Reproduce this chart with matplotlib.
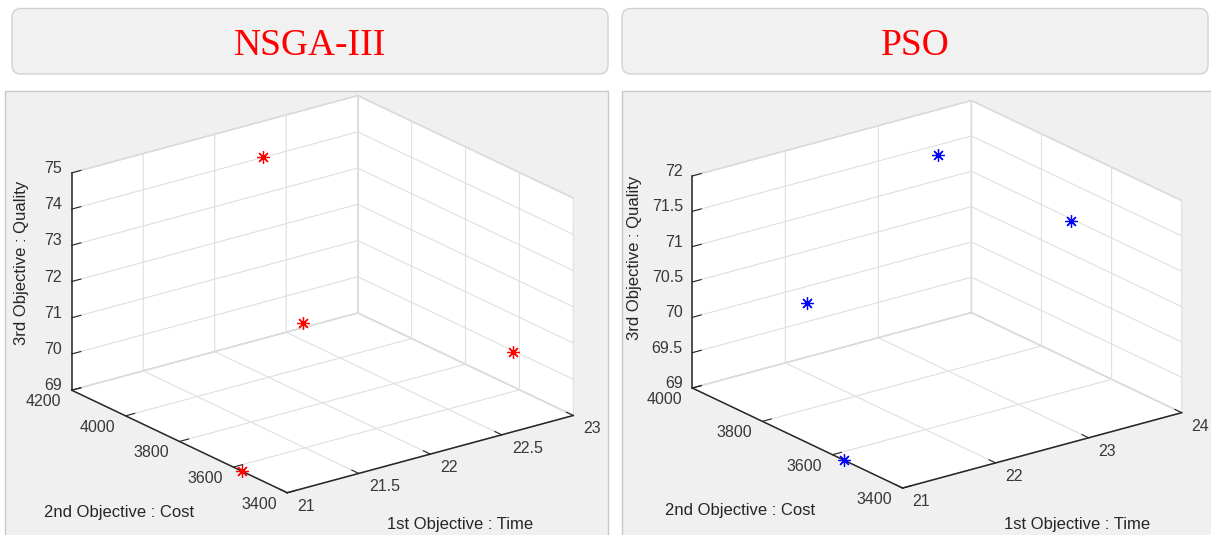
import matplotlib
matplotlib.use("Agg")
import matplotlib.pyplot as plt
from matplotlib.patches import FancyBboxPatch, Rectangle
from mpl_toolkits.mplot3d import proj3d

W, H = 1211, 535

# soluciones NSGA-III (tiempo, costo, calidad)
nsga_time = [21.0, 22.05, 21.8, 22.9]
nsga_cost = [3567, 4049, 3765, 3572]
nsga_quality = [69.0, 74.84, 71.54, 70.24]

# soluciones PSO
pso_time = [21.0, 21.3, 23.2, 23.6]
pso_cost = [3566, 3753, 3882, 3611]
pso_quality = [69.0, 70.68, 71.79, 71.36]

nsga_xticks = [21, 21.5, 22, 22.5, 23]
nsga_yticks = [3400, 3600, 3800, 4000, 4200]
nsga_zticks = [69, 70, 71, 72, 73, 74, 75]
pso_xticks = [21, 22, 23, 24]
pso_yticks = [3400, 3600, 3800, 4000]
pso_zticks = [69, 69.5, 70, 70.5, 71, 71.5, 72]

plt.rcParams['font.family'] = ['Liberation Sans', 'DejaVu Sans']

fig = plt.figure(figsize=(W / 100, H / 100), dpi=100, facecolor='white')

bg = fig.add_axes([0, 0, 1, 1], zorder=-10)
bg.set_xlim(0, W)
bg.set_ylim(H, 0)
bg.axis('off')

# fondos grises de cada panel
bg.add_patch(Rectangle((5, 91), 603, 450, fc='#f0f0f0', ec='#c8c8c8', lw=1))
bg.add_patch(Rectangle((622, 91), 600, 450, fc='#f0f0f0', ec='#c8c8c8', lw=1))

# cabeceras
for x0, x1, title in [(12, 608, 'NSGA-III'), (622, 1208, 'PSO')]:
    bg.add_patch(FancyBboxPatch((x0, 8.5), x1 - x0, 65.5,
                                boxstyle='round,pad=0,rounding_size=9',
                                fc='#f1f1f1', ec='#d2d2d2', lw=1))
    bg.text((x0 + x1) / 2, 55, title, ha='center', va='baseline',
            fontsize=27, color='#ff0000', family='Liberation Serif')


def fmt(v, pos=None):
    return f'{v:g}'


def panel(rect, t, c, q, xt, yt, zt, color):
    ax = fig.add_axes(rect, projection='3d')
    ax.set_proj_type('ortho')
    ax.view_init(elev=21, azim=-127)
    ax.set_box_aspect((1, 1, 0.65))
    ax.patch.set_alpha(0)
    ax.plot(t, c, q, linestyle='none', marker=(8, 2, 0), color=color,
            ms=9, mew=0.9)
    ax.set_xlim(xt[0], xt[-1])
    ax.set_ylim(yt[0], yt[-1])
    ax.set_zlim(zt[0], zt[-1])
    ax.set_xticks(xt)
    ax.set_yticks(yt)
    ax.set_zticks(zt)
    for axis in (ax.xaxis, ax.yaxis, ax.zaxis):
        # los textos de las marcas se ponen a mano (estilo MATLAB)
        axis.set_major_formatter(plt.NullFormatter())
        axis.set_pane_color((1, 1, 1, 1))
        axis.pane.set_edgecolor('#c8c8c8')
        axis.line.set_color('#262626')
        axis.line.set_linewidth(1.1)
        axis._axinfo['tick']['inward_factor'] = 0.0
        axis._axinfo['tick']['outward_factor'] = 0.4
        axis._axinfo['grid']['color'] = '#dfdfdf'
        axis._axinfo['grid']['linewidth'] = 0.8
    ax.tick_params(axis='both', colors='#262626')
    return ax


def to_px(ax, x, y, z):
    xs, ys, _ = proj3d.proj_transform(x, y, z, ax.M)
    p = ax.transData.transform((xs, ys))
    return p[0], H - p[1]


def fit_cube(ax, xl, yl, zl, left_x, right_x, top_y, front_y):
    # coloca el cubo 3D en los pixeles de la figura original
    fig.canvas.draw()
    lx = to_px(ax, xl[0], yl[1], zl[0])[0]
    rx = to_px(ax, xl[1], yl[0], zl[0])[0]
    ty = H - to_px(ax, xl[0], yl[1], zl[1])[1]
    fy = H - to_px(ax, xl[0], yl[0], zl[0])[1]
    bb = ax.bbox
    s0 = bb.width
    cx0, cy0 = bb.x0 + bb.width / 2, bb.y0 + bb.height / 2
    ul, ur = (lx - cx0) / s0, (rx - cx0) / s0
    ut, uf = (ty - cy0) / s0, (fy - cy0) / s0
    s = (right_x - left_x) / (ur - ul)
    cx = left_x - s * ul
    cy = ((H - top_y) + (H - front_y)) / 2 - s * (ut + uf) / 2
    ax.set_position([(cx - s / 2) / W, (cy - s / 2) / H, s / W, s / H])


def tick_labels(ax, xt, yt, zt):
    kw = dict(fontsize=11.5, color='#383838', va='center')
    for v in xt:
        x, y = to_px(ax, v, yt[0], zt[0])
        bg.text(x + 10, y + 13.5, fmt(v), ha='left', **kw)
    for v in yt:
        x, y = to_px(ax, xt[0], v, zt[0])
        bg.text(x - 10.5, y + 11.5, fmt(v), ha='right', **kw)
    for v in zt:
        x, y = to_px(ax, xt[0], yt[-1], v)
        bg.text(x - 9.5, y - 4.5, fmt(v), ha='right', **kw)


ax1 = panel([0.02, 0.05, 0.45, 0.8], nsga_time, nsga_cost, nsga_quality,
            nsga_xticks, nsga_yticks, nsga_zticks, '#ff0000')
ax2 = panel([0.52, 0.05, 0.45, 0.8], pso_time, pso_cost, pso_quality,
            pso_xticks, pso_yticks, pso_zticks, '#0000ff')

fit_cube(ax1, (21, 23), (3400, 4200), (69, 75), 71.7, 573.3, 172.3, 493.3)
fit_cube(ax2, (21, 24), (3400, 4000), (69, 72), 692.3, 1181.7, 172.3, 491.7)
fig.canvas.draw()

tick_labels(ax1, nsga_xticks, nsga_yticks, nsga_zticks)
tick_labels(ax2, pso_xticks, pso_yticks, pso_zticks)

# etiquetas de los ejes
lab = dict(fontsize=12, color='#262626', ha='center', va='center')
bg.text(119, 512, '2nd Objective : Cost', **lab)
bg.text(460, 525, '1st Objective : Time', **lab)
bg.text(22, 263, '3rd Objective : Quality', rotation=90, **lab)
bg.text(740, 511, '2nd Objective : Cost', **lab)
bg.text(1077, 525, '1st Objective : Time', **lab)
bg.text(635, 258, '3rd Objective : Quality', rotation=90, **lab)

fig.savefig('out.png', dpi=100, facecolor='white')
